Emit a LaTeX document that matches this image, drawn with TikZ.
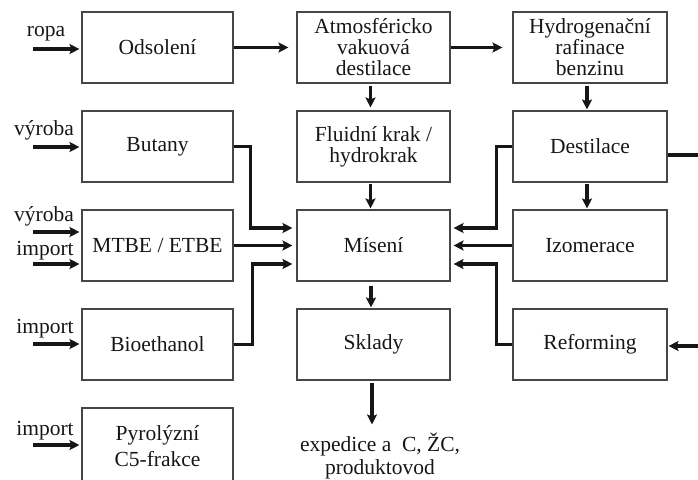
\documentclass[tikz,border=0pt]{standalone}
\usepackage{fontspec}
\setmainfont{Liberation Serif}
\usetikzlibrary{arrows.meta,calc}
\definecolor{ink}{RGB}{22,22,22}
\definecolor{frame}{RGB}{70,70,70}
\begin{document}
\begin{tikzpicture}[x=1pt,y=-1pt,
  box/.style={draw=frame,line width=1.1pt,minimum height=71pt,inner sep=0pt,
    align=center,text=ink,font=\fontsize{21.5}{21}\selectfont},
  colA/.style={box,minimum width=151pt},
  colB/.style={box,minimum width=153pt},
  colC/.style={box,minimum width=154pt},
  flow/.style={draw=ink,line width=3.5pt,-{Stealth[length=10pt,width=10pt,inset=2pt]}},
  link/.style={draw=ink,line width=3.5pt},
  lbl/.style={text=ink,font=\fontsize{21.5}{23}\selectfont,inner sep=0pt,align=center}
]
\useasboundingbox (0,0) rectangle (698,479);
\clip (0,0) rectangle (698,479);

% left column: feedstocks and additives
\node[colA] (ods)  at (157.5,47.5)  {Odsolení};
\node[colA] (but)  at (157.5,146.5) {Butany};
\node[colA] (mtbe) at (157.5,245.5) {MTBE / ETBE};
\node[colA] (bio)  at (157.5,344.5) {Bioethanol};
% the last box runs past the lower edge of the sheet
\node[colA,minimum height=76pt,font=\fontsize{21.5}{26}\selectfont] (pyr) at (157.5,446) {Pyrolýzní\\C5-frakce};

% middle column: main process line
\node[colB] (atm) at (373.5,47.5)  {Atmosféricko\\vakuová\\destilace};
\node[colB] (flu) at (373.5,146.5) {Fluidní krak /\\hydrokrak};
\node[colB] (mis) at (373.5,245.5) {Mísení};
\node[colB] (skl) at (373.5,344.5) {Sklady};

% right column: gasoline treatment
\node[colC] (hyd) at (590,47.5)  {Hydrogenační\\rafinace\\benzinu};
\node[colC] (des) at (590,146.5) {Destilace};
\node[colC] (izo) at (590,245.5) {Izomerace};
\node[colC] (ref) at (590,344.5) {Reforming};

% input labels
\node[lbl,anchor=base] (l1) at (46,36)  {ropa};
\node[lbl,anchor=base] (l2) at (44,135) {výroba};
\node[lbl,anchor=base] (l3) at (44,221) {výroba};
\node[lbl,anchor=base] (l4) at (45,255) {import};
\node[lbl,anchor=base] (l5) at (45,333) {import};
\node[lbl,anchor=base] (l6) at (45,435) {import};

% input arrows
\coordinate (i1) at (33,49);
\coordinate (i2) at (33,147);
\coordinate (i3) at (33,232);
\coordinate (i4) at (33,264);
\coordinate (i5) at (33,344);
\coordinate (i6) at (33,445);
\draw[flow,shorten >=2pt] (i1) -- (i1 -| ods.west);
\draw[flow,shorten >=2pt] (i2) -- (i2 -| but.west);
\draw[flow,shorten >=2pt] (i3) -- (i3 -| mtbe.west);
\draw[flow,shorten >=2pt] (i4) -- (i4 -| mtbe.west);
\draw[flow,shorten >=2pt] (i5) -- (i5 -| bio.west);
\draw[flow,shorten >=2pt] (i6) -- (i6 -| pyr.west);

% top row
\draw[flow,shorten >=8pt] (ods.east) -- (atm.west);
\draw[flow,shorten >=10pt] (atm.east) -- (hyd.west);

% vertical flows
\draw[flow,shorten <=2pt,shorten >=3pt] ([xshift=-3pt]atm.south) -- ([xshift=-3pt]flu.north);
\draw[flow,shorten <=2pt,shorten >=1pt] ([xshift=-3pt]hyd.south) -- ([xshift=-3pt]des.north);
\draw[flow,shorten <=1pt,shorten >=1pt] ([xshift=-3pt]flu.south) -- ([xshift=-3pt]mis.north);
\draw[flow,shorten <=1pt,shorten >=1pt] ([xshift=-3pt]des.south) -- ([xshift=-3pt]izo.north);
\draw[flow,shorten <=4pt,shorten >=1pt] ([xshift=-2.5pt]mis.south) -- ([xshift=-2.5pt]skl.north);

% blending inputs from the left
\draw[flow,shorten >=4pt] (but.east) -- ++(17,0) |- ($(mis.west)+(0,-17.5)$);
\draw[flow,shorten >=4pt] (mtbe.east) -- (mis.west);
\draw[flow,shorten >=4pt] (bio.east) -- ++(19,0) |- ($(mis.west)+(0,18.5)$);

% blending inputs from the right
\draw[flow,shorten >=3pt] (des.west) -- ++(-16,0) |- ($(mis.east)+(0,-17.5)$);
\draw[flow,shorten >=3pt] (izo.west) -- (mis.east);
\draw[flow,shorten >=3pt] (ref.west) -- ++(-16,0) |- ($(mis.east)+(0,18.5)$);

% side streams at the right edge
\coordinate (desout) at (698,155);
\draw[link] (des.east |- desout) -- (desout);
\coordinate (refin) at (698,346);
\draw[flow,shorten >=1pt] (refin) -- (refin -| ref.east);

% dispatch
\node[lbl,anchor=north] (exp) at (380,432.5) {expedice a\ \ C, ŽC,\\produktovod};
\draw[flow,shorten <=2pt,shorten >=8pt] ([xshift=-1.5pt]skl.south) -- ([xshift=-1.5pt]skl.south |- exp.north);
\end{tikzpicture}
\end{document}
